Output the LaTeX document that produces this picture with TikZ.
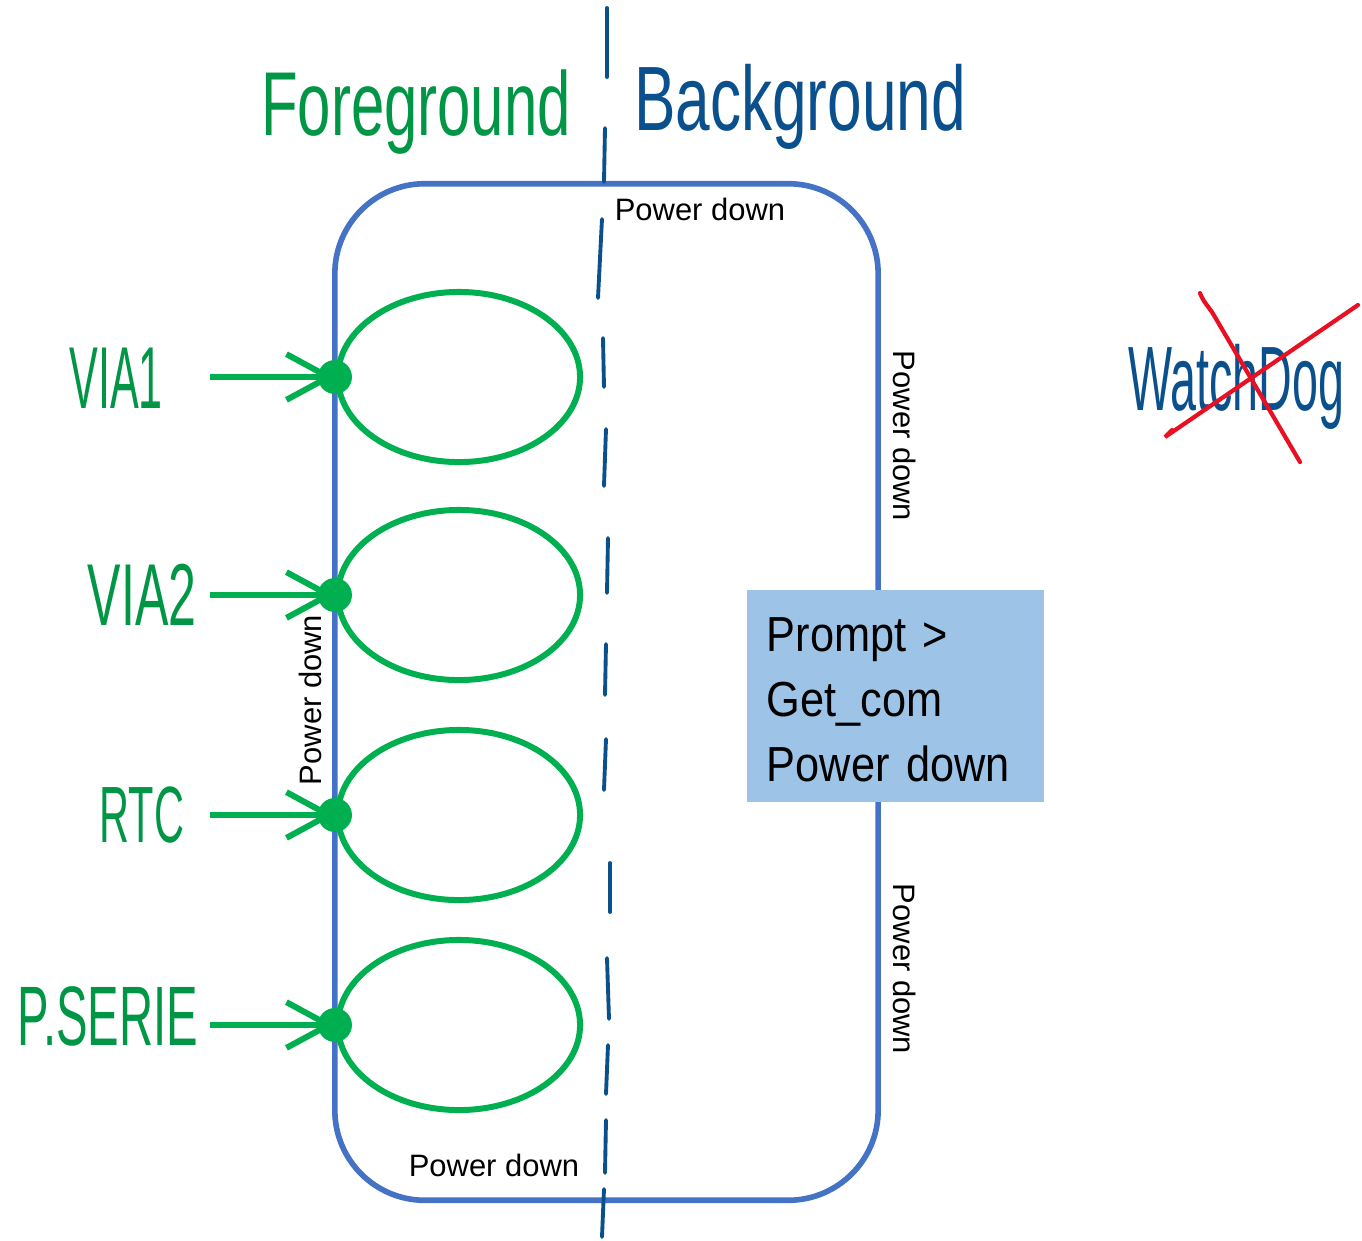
\documentclass[tikz,border=0pt]{standalone}
\usepackage{fontspec}
\usepackage{graphicx}
\setmainfont{Liberation Sans}
\newfontfamily\handfont{Liberation Sans}
\newfontfamily\promptfont{Liberation Sans}[FakeStretch=0.88]
\usetikzlibrary{shapes.geometric,arrows.meta}
\definecolor{framebl}{RGB}{68,114,196}
\definecolor{statgr}{RGB}{0,176,80}
\definecolor{handgr}{RGB}{0,150,70}
\definecolor{penbl}{RGB}{10,80,140}
\definecolor{penrd}{RGB}{232,17,35}
\definecolor{promptbl}{RGB}{157,195,230}
\newcommand{\handtxt}[3]{\fontsize{#1}{#1}\selectfont\scalebox{#2}[1]{#3}}
\tikzset{
  state/.style={draw=statgr, line width=1.7pt, ellipse, minimum width=2.42cm,
    minimum height=1.70cm, inner sep=0pt},
  dot/.style={circle, fill=statgr, minimum size=0.34cm, inner sep=0pt},
  inarrow/.style={draw=statgr, line width=1.7pt,
    -{Straight Barb[length=12pt,width=13pt,line width=1.7pt]}},
  hand/.style={font=\handfont, inner sep=0pt, anchor=base},
  pdlabel/.style={font=\fontsize{8.8}{10}\selectfont, inner sep=0pt},
  pen/.style={penbl, line width=1.1pt, line cap=round},
}
\begin{document}
\begin{tikzpicture}[x=0.01cm, y=-0.01cm]
\useasboundingbox (0,0) rectangle (1362,1241);
% foreground / background frame
\node[draw=framebl, line width=1.6pt, rounded corners=0.9cm, minimum width=5.43cm,
  minimum height=10.16cm, inner sep=0pt] (frame) at (606.5,692) {};
\node[fill=promptbl, minimum width=2.97cm, minimum height=2.12cm, text width=2.57cm,
  align=left, font=\promptfont\fontsize{14}{18.5}\selectfont] (prompt) at (895.5,696)
  {\rule{0pt}{12pt}Prompt >\\ Get\_com\\ Power down};
% separation line, drawn by hand
\foreach \xa/\ya/\xb/\yb in {607/8/607/77, 605/128/604/182, 602/219/598/298,
  603/338/604/387, 606/429/604/486, 608/538/607/593, 606/644/605/695,
  606/739/604/790, 610/863/610/912, 607/958/609/1019, 608/1045/606/1094,
  606/1120/605/1173, 604/1189/602/1237}
\draw[pen] (\xa,\ya) -- (\xb,\yb);
\node[hand, text=handgr] (fgtitle) at (416,135) {\handtxt{25.8}{0.66}{Foreground}};
\node[hand, text=penbl] (bgtitle) at (800,130) {\handtxt{26}{0.68}{Background}};
% interrupt states
\foreach \i/\y/\lbl/\base/\cx/\fs/\sx in {1/377/VIA1/408/116/25/0.49,
  2/595/VIA2/625/142/25/0.57, 3/815/RTC/842/142/22.7/0.52,
  4/1025/P.SERIE/1045/108/24/0.56}
{
\node[state] (e\i) at (459,\y) {};
\coordinate (in\i) at (210,\y);
\node[hand, text=handgr] (lbl\i) at (\cx,\base) {\handtxt{\fs}{\sx}{\lbl}};
\draw[inarrow] (in\i) -- (e\i.west);
\node[dot] (d\i) at (e\i.west) {};
}
% power down labels
\node[pdlabel] (pdtop) at (700,209) {Power down};
\node[pdlabel] (pdbot) at (494,1165) {Power down};
\node[pdlabel, rotate=90] (pdleft) at (310,700) {Power down};
\node[pdlabel, rotate=-90] (pdup) at (905,436) {Power down};
\node[pdlabel, rotate=-90] (pddown) at (905,969) {Power down};
% watchdog, crossed out
\node[hand, text=penbl] (wdog) at (1236,410) {\handtxt{26}{0.51}{WatchDog}};
\draw[penrd, line width=1.2pt, line cap=round] (1200,293) .. controls (1203,300) .. (1212,312) -- (1300,462);
\draw[penrd, line width=1.2pt, line cap=round] (1358,305) -- (1165,437) -- (1172,430);
\end{tikzpicture}
\end{document}
